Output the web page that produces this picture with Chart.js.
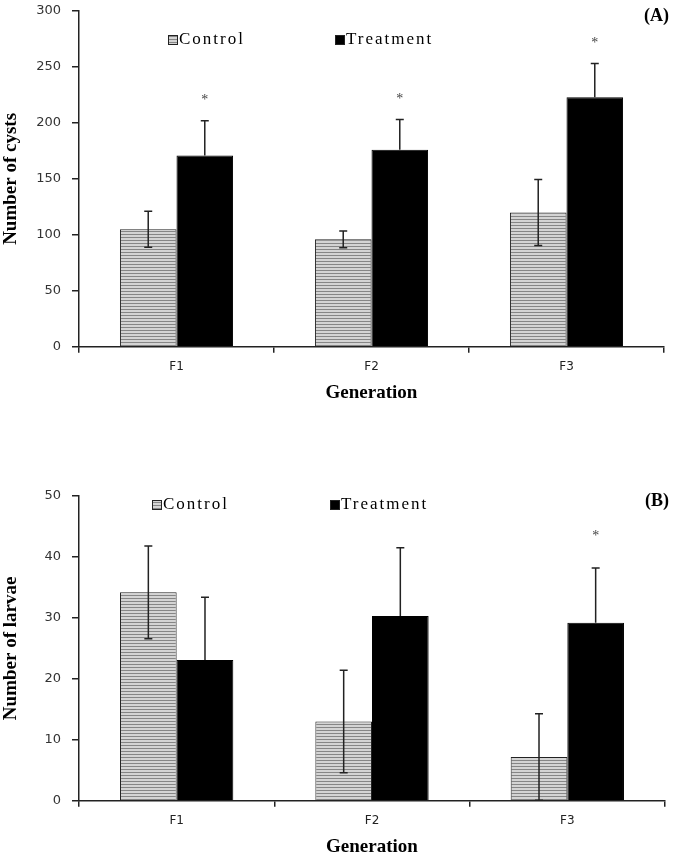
<!DOCTYPE html>
<html>
<head>
<meta charset="utf-8">
<script src="https://cdn.jsdelivr.net/npm/chart.js@4"></script>
<style>
    body { margin: 0; background: #fff; overflow: hidden; }
    .box { position: absolute; left: 0; width: 675px; }
    #boxA { top: 0; height: 430px; }
    #boxB { top: 430px; height: 428px; }
</style>
</head>
<body>
<div class="box" id="boxA"><canvas id="chartA"></canvas></div>
<div class="box" id="boxB"><canvas id="chartB"></canvas></div>
<script>
//--- data
var generations = ['F1', 'F2', 'F3'];
var seriesNames = ['Control', 'Treatment'];

// (A) number of cysts
var cystsControl = [105, 96, 120];
var cystsControlErr = [16, 7.5, 29.5];
var cystsTreatment = [171, 176, 223];
var cystsTreatmentErr = [31, 27, 30];
var cystsSignif = [true, true, true];
var cystsTicks = [0, 50, 100, 150, 200, 250, 300];

// (B) number of larvae
var larvaeControl = [34.2, 13.0, 7.2];
var larvaeControlErr = [7.6, 8.4, 7.1];
var larvaeTreatment = [23.1, 30.3, 29.2];
var larvaeTreatmentErr = [10.3, 11.2, 9.0];
var larvaeSignif = [false, false, true];
var larvaeTicks = [0, 10, 20, 30, 40, 50];

//--- striped fill for the control bars
function stripes() {
    var c = document.createElement('canvas');
    c.width = 4; c.height = 3;
    var g = c.getContext('2d');
    g.fillStyle = '#d4d4d4';
    g.fillRect(0, 0, 4, 3);
    g.fillStyle = '#868686';
    g.fillRect(0, 0, 4, 1);
    return g.createPattern(c, 'repeat');
}

// error bars, asterisks, legend and panel letter
var extras = {
    id: 'extras',
    afterDatasetsDraw: function (chart, args, opts) {
        var ctx = chart.ctx;
        var y = chart.scales.y;
        var area = chart.chartArea;
        ctx.save();
        ctx.strokeStyle = '#222';
        ctx.lineWidth = 1.5;
        chart.data.datasets.forEach(function (ds, di) {
            var meta = chart.getDatasetMeta(di);
            meta.data.forEach(function (bar, i) {
                var v = ds.data[i], e = opts.errors[di][i];
                var yTop = y.getPixelForValue(v + e);
                // the lower half is hidden inside the black bars
                var yBot = di === 0 ? y.getPixelForValue(Math.max(0, v - e)) : bar.y;
                ctx.beginPath();
                ctx.moveTo(bar.x, yTop); ctx.lineTo(bar.x, yBot);
                ctx.moveTo(bar.x - 4, yTop); ctx.lineTo(bar.x + 4, yTop);
                if (di === 0) { ctx.moveTo(bar.x - 4, yBot); ctx.lineTo(bar.x + 4, yBot); }
                ctx.stroke();
                if (di === 1 && opts.signif[i]) {
                    ctx.fillStyle = '#444';
                    ctx.font = '14px "Liberation Serif"';
                    ctx.textAlign = 'center';
                    ctx.textBaseline = 'middle';
                    ctx.fillText('*', bar.x, yTop - opts.starGap);
                }
            });
        });

        // legend
        ctx.font = '17px "Liberation Serif"';
        ctx.letterSpacing = '2px';
        ctx.textAlign = 'left';
        ctx.textBaseline = 'middle';
        var ly = area.top + opts.legendTop;
        chart.data.datasets.forEach(function (ds, di) {
            var lx = area.left + opts.legendX[di];
            ctx.fillStyle = ds.backgroundColor;
            ctx.fillRect(lx, ly - 5, 10, 10);
            ctx.lineWidth = 1;
            ctx.strokeStyle = '#222';
            ctx.strokeRect(lx + 0.5, ly - 4.5, 9, 9);
            ctx.fillStyle = '#000';
            ctx.fillText(ds.label, lx + 11, ly);
        });
        ctx.letterSpacing = '0px';

        ctx.font = 'bold 18px "Liberation Serif"';
        ctx.textAlign = 'right';
        ctx.textBaseline = 'top';
        ctx.fillStyle = '#000';
        ctx.fillText(opts.letter, chart.width - 6, area.top + opts.letterTop);
        ctx.restore();
    }
};

function makeChart(id, ctrl, trt, errs, signif, ticks, yTitle, extra, pad) {
    var pattern = stripes();
    return new Chart(document.getElementById(id), {
        type: 'bar',
        data: {
            labels: generations,
            datasets: [
                { label: seriesNames[0], data: ctrl, backgroundColor: pattern, borderColor: '#222', borderWidth: 1 },
                { label: seriesNames[1], data: trt, backgroundColor: '#000', borderColor: '#000', borderWidth: 1 }
            ]
        },
        options: {
            responsive: true,
            maintainAspectRatio: false,
            animation: false,
            categoryPercentage: 0.58,
            barPercentage: 1,
            layout: { padding: pad },
            plugins: {
                legend: { display: false },
                tooltip: { enabled: false },
                extras: Object.assign({ errors: errs, signif: signif }, extra)
            },
            scales: {
                x: {
                    border: { color: '#222', width: 1.5 },
                    grid: { drawOnChartArea: false, drawTicks: true, tickLength: 6, color: '#222', lineWidth: 1.5, offset: true },
                    ticks: { color: '#222', font: { family: 'DejaVu Sans', size: 12 }, padding: 7 },
                    title: {
                        display: true, text: 'Generation', color: '#000',
                        font: { family: 'Liberation Serif', size: 19, weight: 'bold' },
                        padding: { top: 0, bottom: 0 }
                    }
                },
                y: {
                    min: ticks[0],
                    max: ticks[ticks.length - 1],
                    afterBuildTicks: function (s) { s.ticks = ticks.map(function (v) { return { value: v }; }); },
                    afterFit: function (s) { s.width = 79; s.paddingTop = 0; s.paddingBottom = 0; },
                    border: { color: '#222', width: 1.5 },
                    grid: { drawOnChartArea: false, drawTicks: true, tickLength: 7, color: '#222', lineWidth: 1.5 },
                    ticks: { color: '#333', font: { family: 'DejaVu Sans', size: 13 }, padding: 11 },
                    title: {
                        display: true, text: yTitle, color: '#000',
                        font: { family: 'Liberation Serif', size: 19, weight: 'bold' },
                        padding: { top: 0, bottom: 2 }
                    }
                }
            }
        },
        plugins: [extras]
    });
}

makeChart('chartA', cystsControl, cystsTreatment, [cystsControlErr, cystsTreatmentErr], cystsSignif,
    cystsTicks, 'Number of cysts',
    { letter: '(A)', letterTop: -4, legendTop: 29, legendX: [89, 256], starGap: 20 },
    { left: 0, top: 11, right: 11, bottom: 26 });

makeChart('chartB', larvaeControl, larvaeTreatment, [larvaeControlErr, larvaeTreatmentErr], larvaeSignif,
    larvaeTicks, 'Number of larvae',
    { letter: '(B)', letterTop: -4, legendTop: 9, legendX: [73, 251], starGap: 32 },
    { left: 0, top: 66, right: 10, bottom: 0 });
</script>
</body>
</html>
